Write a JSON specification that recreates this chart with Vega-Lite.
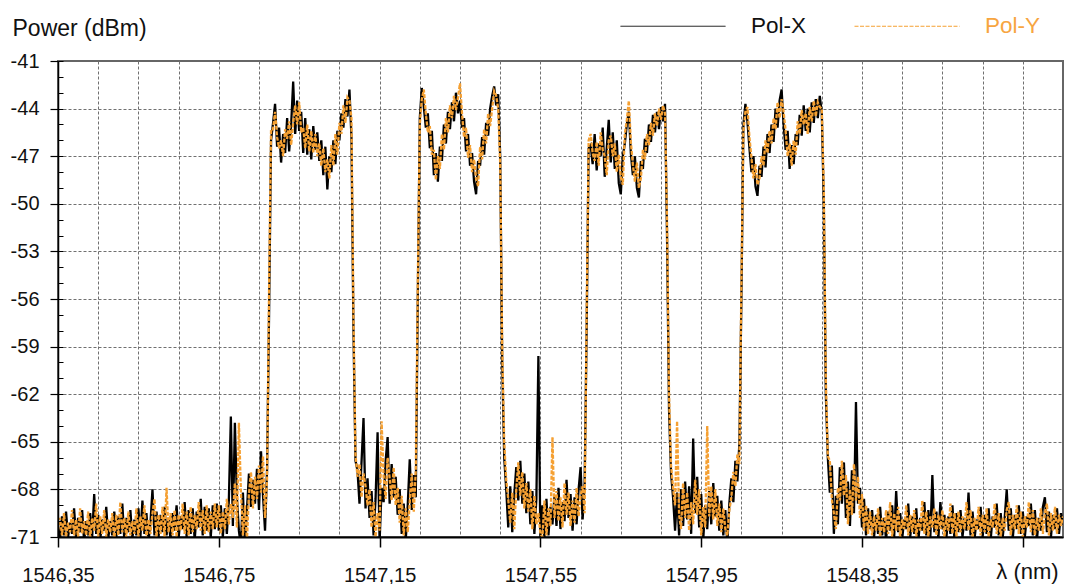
{
"$schema":"https://vega.github.io/schema/vega-lite/v6.json",
"width":1005,"height":476,
"autosize":{"type":"none"},
"padding":{"left":58,"top":61,"right":7,"bottom":47},
"background":"white",
"config":{"view":{"stroke":"#666666","strokeWidth":2},"font":"Liberation Sans"},
"data":{"values":[
{"w":1546.35,"a":-70.3,"b":-70.6},{"w":1546.355,"a":-71.2,"b":-69.8},{"w":1546.36,"a":-69.7,"b":-70.9},{"w":1546.365,"a":-70.9,"b":-69.5},{"w":1546.37,"a":-69.4,"b":-71.0},
{"w":1546.375,"a":-71.0,"b":-70.1},{"w":1546.38,"a":-70.1,"b":-70.7},{"w":1546.385,"a":-70.8,"b":-69.3},{"w":1546.39,"a":-69.2,"b":-70.9},{"w":1546.395,"a":-71.1,"b":-69.9},
{"w":1546.4,"a":-69.8,"b":-71.0},{"w":1546.405,"a":-70.7,"b":-69.2},{"w":1546.41,"a":-69.3,"b":-70.8},{"w":1546.415,"a":-71.3,"b":-70.0},{"w":1546.42,"a":-70.0,"b":-70.9},
{"w":1546.425,"a":-70.9,"b":-69.4},{"w":1546.43,"a":-69.5,"b":-71.1},{"w":1546.435,"a":-71.0,"b":-69.8},{"w":1546.44,"a":-68.3,"b":-70.6},{"w":1546.445,"a":-70.8,"b":-68.9},
{"w":1546.45,"a":-69.6,"b":-71.0},{"w":1546.455,"a":-71.2,"b":-69.7},{"w":1546.46,"a":-69.9,"b":-70.8},{"w":1546.465,"a":-70.6,"b":-69.3},{"w":1546.47,"a":-69.1,"b":-71.0},
{"w":1546.475,"a":-71.1,"b":-69.9},{"w":1546.48,"a":-70.0,"b":-70.7},{"w":1546.485,"a":-70.9,"b":-69.5},{"w":1546.49,"a":-69.4,"b":-71.2},{"w":1546.495,"a":-71.0,"b":-69.6},
{"w":1546.5,"a":-69.7,"b":-70.9},{"w":1546.505,"a":-70.8,"b":-68.8},{"w":1546.51,"a":-68.9,"b":-70.7},{"w":1546.515,"a":-71.2,"b":-69.8},{"w":1546.52,"a":-69.8,"b":-71.0},
{"w":1546.525,"a":-70.7,"b":-69.4},{"w":1546.53,"a":-69.3,"b":-70.9},{"w":1546.535,"a":-71.1,"b":-70.0},{"w":1546.54,"a":-69.9,"b":-70.8},{"w":1546.545,"a":-70.9,"b":-69.2},
{"w":1546.55,"a":-69.2,"b":-71.0},{"w":1546.555,"a":-71.0,"b":-69.7},{"w":1546.56,"a":-68.7,"b":-70.6},{"w":1546.565,"a":-70.8,"b":-69.0},{"w":1546.57,"a":-69.5,"b":-71.1},
{"w":1546.575,"a":-71.3,"b":-69.9},{"w":1546.58,"a":-70.1,"b":-70.8},{"w":1546.585,"a":-68.0,"b":-69.5},{"w":1546.59,"a":-70.9,"b":-68.6},{"w":1546.595,"a":-69.4,"b":-71.0},
{"w":1546.6,"a":-71.0,"b":-69.6},{"w":1546.605,"a":-69.6,"b":-70.8},{"w":1546.61,"a":-70.7,"b":-69.1},{"w":1546.615,"a":-69.1,"b":-71.0},{"w":1546.62,"a":-70.9,"b":-67.9},
{"w":1546.625,"a":-69.8,"b":-70.7},{"w":1546.63,"a":-71.2,"b":-69.5},{"w":1546.635,"a":-69.5,"b":-70.9},{"w":1546.64,"a":-70.6,"b":-69.3},{"w":1546.645,"a":-69.0,"b":-71.0},
{"w":1546.65,"a":-71.1,"b":-69.6},{"w":1546.655,"a":-69.7,"b":-70.6},{"w":1546.66,"a":-70.5,"b":-68.9},{"w":1546.665,"a":-68.8,"b":-70.8},{"w":1546.67,"a":-71.0,"b":-69.4},
{"w":1546.675,"a":-69.3,"b":-70.9},{"w":1546.68,"a":-70.8,"b":-69.1},{"w":1546.685,"a":-69.2,"b":-70.7},{"w":1546.69,"a":-71.2,"b":-69.6},{"w":1546.695,"a":-69.4,"b":-70.5},
{"w":1546.7,"a":-70.4,"b":-68.8},{"w":1546.705,"a":-68.6,"b":-70.6},{"w":1546.71,"a":-70.9,"b":-69.3},{"w":1546.715,"a":-69.1,"b":-70.8},{"w":1546.72,"a":-70.6,"b":-69.0},
{"w":1546.725,"a":-69.2,"b":-70.7},{"w":1546.73,"a":-71.0,"b":-69.4},{"w":1546.735,"a":-69.0,"b":-70.5},{"w":1546.74,"a":-70.5,"b":-68.9},{"w":1546.745,"a":-68.9,"b":-70.4},
{"w":1546.75,"a":-70.6,"b":-69.0},{"w":1546.755,"a":-69.0,"b":-70.8},{"w":1546.76,"a":-71.0,"b":-69.4},{"w":1546.765,"a":-69.2,"b":-70.5},{"w":1546.77,"a":-70.8,"b":-68.6},
{"w":1546.775,"a":-68.7,"b":-70.2},{"w":1546.78,"a":-63.4,"b":-68.9},{"w":1546.785,"a":-70.3,"b":-69.8},{"w":1546.79,"a":-63.8,"b":-67.6},{"w":1546.795,"a":-68.5,"b":-70.4},
{"w":1546.8,"a":-70.6,"b":-63.8},{"w":1546.805,"a":-71.6,"b":-68.1},{"w":1546.81,"a":-68.2,"b":-70.9},{"w":1546.815,"a":-71.5,"b":-69.0},{"w":1546.82,"a":-69.3,"b":-71.2},
{"w":1546.825,"a":-67.0,"b":-68.3},{"w":1546.83,"a":-69.1,"b":-66.9},{"w":1546.835,"a":-67.4,"b":-69.2},{"w":1546.84,"a":-68.9,"b":-67.2},{"w":1546.845,"a":-66.7,"b":-68.6},
{"w":1546.85,"a":-69.3,"b":-66.5},{"w":1546.855,"a":-65.6,"b":-68.2},{"w":1546.86,"a":-68.4,"b":-65.9},{"w":1546.865,"a":-70.6,"b":-69.8},{"w":1546.87,"a":-66.8,"b":-67.4},
{"w":1546.875,"a":-57.0,"b":-55.5},{"w":1546.88,"a":-46.0,"b":-45.3},{"w":1546.885,"a":-44.9,"b":-45.3},{"w":1546.89,"a":-43.7,"b":-44.2},{"w":1546.895,"a":-46.4,"b":-45.8},
{"w":1546.9,"a":-45.2,"b":-46.5},{"w":1546.905,"a":-47.4,"b":-46.0},{"w":1546.91,"a":-45.6,"b":-47.0},{"w":1546.915,"a":-46.8,"b":-45.3},{"w":1546.92,"a":-44.6,"b":-45.9},
{"w":1546.925,"a":-46.7,"b":-44.8},{"w":1546.93,"a":-45.0,"b":-46.3},{"w":1546.935,"a":-42.3,"b":-44.9},{"w":1546.94,"a":-45.6,"b":-43.8},{"w":1546.945,"a":-43.5,"b":-45.0},
{"w":1546.95,"a":-45.4,"b":-43.6},{"w":1546.955,"a":-44.2,"b":-45.5},{"w":1546.96,"a":-46.8,"b":-45.2},{"w":1546.965,"a":-44.6,"b":-46.5},{"w":1546.97,"a":-46.9,"b":-45.0},
{"w":1546.975,"a":-45.3,"b":-46.7},{"w":1546.98,"a":-47.2,"b":-45.4},{"w":1546.985,"a":-45.1,"b":-46.8},{"w":1546.99,"a":-46.6,"b":-45.6},{"w":1546.995,"a":-45.5,"b":-47.0},
{"w":1547.0,"a":-47.3,"b":-46.2},{"w":1547.005,"a":-46.0,"b":-47.6},{"w":1547.01,"a":-48.2,"b":-46.5},{"w":1547.015,"a":-46.4,"b":-48.0},{"w":1547.02,"a":-49.1,"b":-47.2},
{"w":1547.025,"a":-47.0,"b":-48.4},{"w":1547.03,"a":-48.0,"b":-46.3},{"w":1547.035,"a":-46.0,"b":-47.6},{"w":1547.04,"a":-47.5,"b":-45.6},{"w":1547.045,"a":-45.4,"b":-46.9},
{"w":1547.05,"a":-46.0,"b":-44.9},{"w":1547.055,"a":-44.3,"b":-45.6},{"w":1547.06,"a":-45.2,"b":-43.8},{"w":1547.065,"a":-43.4,"b":-44.9},{"w":1547.07,"a":-44.5,"b":-43.3},
{"w":1547.075,"a":-42.8,"b":-43.5},{"w":1547.08,"a":-45.8,"b":-44.6},{"w":1547.085,"a":-58.0,"b":-57.0},{"w":1547.09,"a":-66.2,"b":-65.8},{"w":1547.095,"a":-66.8,"b":-67.2},
{"w":1547.1,"a":-68.9,"b":-66.4},{"w":1547.105,"a":-66.3,"b":-68.5},{"w":1547.11,"a":-63.5,"b":-67.0},{"w":1547.115,"a":-69.2,"b":-67.8},{"w":1547.12,"a":-67.3,"b":-69.0},
{"w":1547.125,"a":-69.8,"b":-68.0},{"w":1547.13,"a":-68.1,"b":-70.4},{"w":1547.135,"a":-70.9,"b":-68.8},{"w":1547.14,"a":-68.6,"b":-71.0},{"w":1547.145,"a":-64.4,"b":-69.5},
{"w":1547.15,"a":-71.3,"b":-70.6},{"w":1547.155,"a":-67.9,"b":-63.7},{"w":1547.16,"a":-68.8,"b":-67.2},{"w":1547.165,"a":-66.2,"b":-68.6},{"w":1547.17,"a":-64.7,"b":-66.0},
{"w":1547.175,"a":-68.9,"b":-67.3},{"w":1547.18,"a":-66.4,"b":-68.7},{"w":1547.185,"a":-68.5,"b":-66.6},{"w":1547.19,"a":-67.2,"b":-69.0},{"w":1547.195,"a":-69.6,"b":-67.9},
{"w":1547.2,"a":-68.0,"b":-70.1},{"w":1547.205,"a":-70.8,"b":-68.4},{"w":1547.21,"a":-68.9,"b":-70.9},{"w":1547.215,"a":-71.2,"b":-69.2},{"w":1547.22,"a":-69.0,"b":-70.7},
{"w":1547.225,"a":-66.1,"b":-68.8},{"w":1547.23,"a":-69.3,"b":-67.0},{"w":1547.235,"a":-67.1,"b":-69.4},{"w":1547.24,"a":-68.5,"b":-66.8},{"w":1547.245,"a":-56.0,"b":-55.0},
{"w":1547.25,"a":-44.6,"b":-45.0},{"w":1547.255,"a":-42.7,"b":-43.4},{"w":1547.26,"a":-43.9,"b":-42.8},{"w":1547.265,"a":-45.2,"b":-44.3},{"w":1547.27,"a":-44.3,"b":-45.5},
{"w":1547.275,"a":-46.5,"b":-45.1},{"w":1547.28,"a":-45.4,"b":-46.9},{"w":1547.285,"a":-48.2,"b":-46.6},{"w":1547.29,"a":-46.8,"b":-48.5},{"w":1547.295,"a":-48.6,"b":-47.0},
{"w":1547.3,"a":-46.4,"b":-47.8},{"w":1547.305,"a":-47.3,"b":-45.6},{"w":1547.31,"a":-45.0,"b":-46.6},{"w":1547.315,"a":-46.2,"b":-44.6},{"w":1547.32,"a":-44.2,"b":-45.5},
{"w":1547.325,"a":-45.3,"b":-43.8},{"w":1547.33,"a":-43.6,"b":-44.6},{"w":1547.335,"a":-44.8,"b":-43.2},{"w":1547.34,"a":-43.0,"b":-44.1},{"w":1547.345,"a":-44.3,"b":-43.3},
{"w":1547.35,"a":-43.5,"b":-42.4},{"w":1547.355,"a":-45.2,"b":-44.3},{"w":1547.36,"a":-44.6,"b":-45.8},{"w":1547.365,"a":-46.7,"b":-45.2},{"w":1547.37,"a":-45.6,"b":-47.1},
{"w":1547.375,"a":-47.6,"b":-46.3},{"w":1547.38,"a":-46.8,"b":-48.0},{"w":1547.385,"a":-48.6,"b":-47.2},{"w":1547.39,"a":-49.4,"b":-48.4},{"w":1547.395,"a":-47.3,"b":-48.9},
{"w":1547.4,"a":-47.6,"b":-46.4},{"w":1547.405,"a":-45.8,"b":-47.2},{"w":1547.41,"a":-46.9,"b":-45.3},{"w":1547.415,"a":-44.9,"b":-46.2},{"w":1547.42,"a":-45.7,"b":-44.3},
{"w":1547.425,"a":-44.0,"b":-45.1},{"w":1547.43,"a":-43.2,"b":-44.0},{"w":1547.435,"a":-42.6,"b":-42.9},{"w":1547.44,"a":-43.8,"b":-43.2},{"w":1547.445,"a":-43.1,"b":-44.0},
{"w":1547.45,"a":-47.0,"b":-47.5},{"w":1547.455,"a":-60.0,"b":-59.0},{"w":1547.46,"a":-66.0,"b":-65.0},{"w":1547.465,"a":-68.0,"b":-67.4},{"w":1547.47,"a":-70.4,"b":-68.6},
{"w":1547.475,"a":-67.8,"b":-70.1},{"w":1547.48,"a":-70.7,"b":-68.2},{"w":1547.485,"a":-68.3,"b":-70.5},{"w":1547.49,"a":-66.6,"b":-68.0},{"w":1547.495,"a":-68.7,"b":-66.3},
{"w":1547.5,"a":-66.2,"b":-68.4},{"w":1547.505,"a":-68.9,"b":-66.9},{"w":1547.51,"a":-67.0,"b":-69.2},{"w":1547.515,"a":-69.5,"b":-67.6},{"w":1547.52,"a":-67.5,"b":-69.4},
{"w":1547.525,"a":-70.2,"b":-68.0},{"w":1547.53,"a":-68.1,"b":-70.5},{"w":1547.535,"a":-70.8,"b":-68.4},{"w":1547.54,"a":-68.6,"b":-70.2},{"w":1547.545,"a":-59.6,"b":-69.5},
{"w":1547.55,"a":-71.3,"b":-70.8},{"w":1547.555,"a":-69.0,"b":-71.0},{"w":1547.56,"a":-71.1,"b":-68.7},{"w":1547.565,"a":-68.6,"b":-70.9},{"w":1547.57,"a":-70.9,"b":-69.2},
{"w":1547.575,"a":-69.1,"b":-70.3},{"w":1547.58,"a":-70.2,"b":-64.7},{"w":1547.585,"a":-68.4,"b":-69.8},{"w":1547.59,"a":-70.3,"b":-68.1},{"w":1547.595,"a":-67.9,"b":-70.0},
{"w":1547.6,"a":-70.5,"b":-68.5},{"w":1547.605,"a":-68.8,"b":-70.4},{"w":1547.61,"a":-70.0,"b":-67.6},{"w":1547.615,"a":-67.4,"b":-69.6},{"w":1547.62,"a":-69.8,"b":-68.2},
{"w":1547.625,"a":-68.3,"b":-70.3},{"w":1547.63,"a":-70.6,"b":-68.7},{"w":1547.635,"a":-68.5,"b":-70.1},{"w":1547.64,"a":-70.2,"b":-67.9},{"w":1547.645,"a":-68.0,"b":-69.7},
{"w":1547.65,"a":-66.6,"b":-68.4},{"w":1547.655,"a":-69.9,"b":-67.8},{"w":1547.66,"a":-67.7,"b":-69.5},{"w":1547.665,"a":-58.0,"b":-57.0},{"w":1547.67,"a":-46.5,"b":-46.0},
{"w":1547.675,"a":-46.3,"b":-45.6},{"w":1547.68,"a":-47.5,"b":-46.8},{"w":1547.685,"a":-45.6,"b":-47.3},{"w":1547.69,"a":-47.9,"b":-46.1},{"w":1547.695,"a":-46.2,"b":-47.6},
{"w":1547.7,"a":-47.0,"b":-45.5},{"w":1547.705,"a":-45.2,"b":-46.6},{"w":1547.71,"a":-48.3,"b":-47.0},{"w":1547.715,"a":-46.5,"b":-48.2},{"w":1547.72,"a":-44.7,"b":-46.0},
{"w":1547.725,"a":-47.4,"b":-45.7},{"w":1547.73,"a":-45.5,"b":-47.0},{"w":1547.735,"a":-47.8,"b":-46.2},{"w":1547.74,"a":-46.0,"b":-48.0},{"w":1547.745,"a":-48.7,"b":-46.9},
{"w":1547.75,"a":-49.4,"b":-48.3},{"w":1547.755,"a":-47.0,"b":-48.8},{"w":1547.76,"a":-46.2,"b":-45.6},{"w":1547.765,"a":-45.0,"b":-44.7},{"w":1547.77,"a":-44.2,"b":-43.5},
{"w":1547.775,"a":-46.8,"b":-46.1},{"w":1547.78,"a":-48.2,"b":-47.5},{"w":1547.785,"a":-47.0,"b":-48.6},{"w":1547.79,"a":-49.0,"b":-47.4},{"w":1547.795,"a":-49.6,"b":-49.0},
{"w":1547.8,"a":-47.3,"b":-48.4},{"w":1547.805,"a":-47.8,"b":-46.6},{"w":1547.81,"a":-45.9,"b":-47.2},{"w":1547.815,"a":-46.8,"b":-45.6},{"w":1547.82,"a":-45.0,"b":-46.3},
{"w":1547.825,"a":-46.1,"b":-44.9},{"w":1547.83,"a":-44.4,"b":-45.7},{"w":1547.835,"a":-45.5,"b":-44.3},{"w":1547.84,"a":-44.2,"b":-45.1},{"w":1547.845,"a":-45.3,"b":-44.0},
{"w":1547.85,"a":-43.9,"b":-44.7},{"w":1547.855,"a":-44.8,"b":-43.8},{"w":1547.86,"a":-43.7,"b":-44.3},{"w":1547.865,"a":-52.0,"b":-51.0},{"w":1547.87,"a":-63.0,"b":-62.0},
{"w":1547.875,"a":-67.0,"b":-66.5},{"w":1547.88,"a":-68.5,"b":-67.9},{"w":1547.885,"a":-70.6,"b":-69.0},{"w":1547.89,"a":-68.2,"b":-63.7},{"w":1547.895,"a":-70.9,"b":-69.6},
{"w":1547.9,"a":-68.0,"b":-70.5},{"w":1547.905,"a":-70.3,"b":-67.6},{"w":1547.91,"a":-67.5,"b":-69.8},{"w":1547.915,"a":-69.9,"b":-68.2},{"w":1547.92,"a":-67.8,"b":-70.6},
{"w":1547.925,"a":-70.8,"b":-68.8},{"w":1547.93,"a":-64.8,"b":-70.2},{"w":1547.935,"a":-69.5,"b":-67.4},{"w":1547.94,"a":-67.2,"b":-69.6},{"w":1547.945,"a":-70.4,"b":-68.0},
{"w":1547.95,"a":-68.3,"b":-70.9},{"w":1547.955,"a":-71.2,"b":-69.1},{"w":1547.96,"a":-69.0,"b":-70.4},{"w":1547.965,"a":-70.5,"b":-64.0},{"w":1547.97,"a":-68.1,"b":-69.7},
{"w":1547.975,"a":-70.2,"b":-67.8},{"w":1547.98,"a":-67.6,"b":-69.9},{"w":1547.985,"a":-69.7,"b":-68.0},{"w":1547.99,"a":-68.4,"b":-70.3},{"w":1547.995,"a":-70.6,"b":-68.9},
{"w":1548.0,"a":-68.7,"b":-70.7},{"w":1548.005,"a":-70.9,"b":-69.2},{"w":1548.01,"a":-69.3,"b":-70.5},{"w":1548.015,"a":-71.4,"b":-70.9},{"w":1548.02,"a":-68.9,"b":-69.3},
{"w":1548.025,"a":-67.3,"b":-68.5},{"w":1548.03,"a":-68.8,"b":-66.9},{"w":1548.035,"a":-66.2,"b":-67.8},{"w":1548.04,"a":-67.5,"b":-65.8},{"w":1548.045,"a":-65.1,"b":-66.4},
{"w":1548.05,"a":-56.0,"b":-55.0},{"w":1548.055,"a":-45.0,"b":-45.4},{"w":1548.06,"a":-43.7,"b":-44.2},{"w":1548.065,"a":-44.8,"b":-43.9},{"w":1548.07,"a":-46.5,"b":-45.8},
{"w":1548.075,"a":-48.0,"b":-47.1},{"w":1548.08,"a":-47.0,"b":-48.4},{"w":1548.085,"a":-48.9,"b":-47.5},{"w":1548.09,"a":-49.5,"b":-48.8},{"w":1548.095,"a":-47.6,"b":-48.4},
{"w":1548.1,"a":-48.3,"b":-47.0},{"w":1548.105,"a":-46.4,"b":-47.6},{"w":1548.11,"a":-47.7,"b":-46.0},{"w":1548.115,"a":-45.6,"b":-46.8},{"w":1548.12,"a":-46.8,"b":-45.4},
{"w":1548.125,"a":-45.0,"b":-46.2},{"w":1548.13,"a":-46.1,"b":-44.6},{"w":1548.135,"a":-44.0,"b":-45.3},{"w":1548.14,"a":-45.2,"b":-43.6},{"w":1548.145,"a":-43.5,"b":-44.6},
{"w":1548.15,"a":-42.8,"b":-43.4},{"w":1548.155,"a":-45.0,"b":-44.2},{"w":1548.16,"a":-46.6,"b":-45.4},{"w":1548.165,"a":-45.4,"b":-47.0},{"w":1548.17,"a":-47.8,"b":-46.2},
{"w":1548.175,"a":-46.3,"b":-47.6},{"w":1548.18,"a":-47.5,"b":-46.0},{"w":1548.185,"a":-45.6,"b":-46.9},{"w":1548.19,"a":-46.3,"b":-44.8},{"w":1548.195,"a":-44.4,"b":-45.6},
{"w":1548.2,"a":-45.7,"b":-44.1},{"w":1548.205,"a":-43.8,"b":-45.0},{"w":1548.21,"a":-45.4,"b":-44.3},{"w":1548.215,"a":-44.0,"b":-45.6},{"w":1548.22,"a":-45.5,"b":-43.9},
{"w":1548.225,"a":-43.6,"b":-44.8},{"w":1548.23,"a":-44.9,"b":-43.5},{"w":1548.235,"a":-43.4,"b":-44.5},{"w":1548.24,"a":-44.6,"b":-43.6},{"w":1548.245,"a":-43.2,"b":-43.9},
{"w":1548.25,"a":-44.3,"b":-44.0},{"w":1548.255,"a":-50.0,"b":-49.0},{"w":1548.26,"a":-62.0,"b":-61.0},{"w":1548.265,"a":-66.0,"b":-65.9},{"w":1548.27,"a":-68.2,"b":-66.2},
{"w":1548.275,"a":-66.5,"b":-68.6},{"w":1548.28,"a":-70.8,"b":-69.5},{"w":1548.285,"a":-68.4,"b":-70.5},{"w":1548.29,"a":-70.2,"b":-67.9},{"w":1548.295,"a":-66.6,"b":-68.7},
{"w":1548.3,"a":-68.9,"b":-66.2},{"w":1548.305,"a":-66.3,"b":-68.4},{"w":1548.31,"a":-69.8,"b":-67.1},{"w":1548.315,"a":-67.5,"b":-70.2},{"w":1548.32,"a":-70.3,"b":-68.0},
{"w":1548.325,"a":-66.8,"b":-69.6},{"w":1548.33,"a":-69.5,"b":-66.4},{"w":1548.335,"a":-62.5,"b":-68.7},{"w":1548.34,"a":-68.9,"b":-67.2},{"w":1548.345,"a":-67.9,"b":-69.8},
{"w":1548.35,"a":-70.4,"b":-68.3},{"w":1548.355,"a":-68.6,"b":-70.6},{"w":1548.36,"a":-70.9,"b":-69.0},{"w":1548.365,"a":-69.2,"b":-70.8},{"w":1548.37,"a":-70.5,"b":-69.4},
{"w":1548.375,"a":-69.3,"b":-70.9},{"w":1548.38,"a":-71.0,"b":-69.7},{"w":1548.385,"a":-69.6,"b":-70.6},{"w":1548.39,"a":-70.8,"b":-69.2},{"w":1548.395,"a":-69.1,"b":-71.0},
{"w":1548.4,"a":-70.9,"b":-69.8},{"w":1548.405,"a":-69.8,"b":-70.7},{"w":1548.41,"a":-71.2,"b":-69.3},{"w":1548.415,"a":-69.4,"b":-70.8},{"w":1548.42,"a":-70.6,"b":-68.8},
{"w":1548.425,"a":-69.0,"b":-71.0},{"w":1548.43,"a":-71.0,"b":-69.5},{"w":1548.435,"a":-68.1,"b":-70.6},{"w":1548.44,"a":-70.7,"b":-69.1},{"w":1548.445,"a":-69.5,"b":-71.1},
{"w":1548.45,"a":-71.1,"b":-69.9},{"w":1548.455,"a":-69.9,"b":-70.5},{"w":1548.46,"a":-70.5,"b":-69.0},{"w":1548.465,"a":-68.9,"b":-70.9},{"w":1548.47,"a":-71.0,"b":-69.6},
{"w":1548.475,"a":-69.7,"b":-70.7},{"w":1548.48,"a":-70.8,"b":-69.3},{"w":1548.485,"a":-69.2,"b":-71.0},{"w":1548.49,"a":-71.3,"b":-69.9},{"w":1548.495,"a":-69.8,"b":-70.6},
{"w":1548.5,"a":-70.6,"b":-68.7},{"w":1548.505,"a":-68.8,"b":-70.8},{"w":1548.51,"a":-70.9,"b":-69.4},{"w":1548.515,"a":-69.3,"b":-71.0},{"w":1548.52,"a":-71.0,"b":-69.7},
{"w":1548.525,"a":-67.1,"b":-70.4},{"w":1548.53,"a":-70.7,"b":-69.2},{"w":1548.535,"a":-69.4,"b":-70.9},{"w":1548.54,"a":-71.1,"b":-69.6},{"w":1548.545,"a":-68.8,"b":-70.5},
{"w":1548.55,"a":-70.5,"b":-69.3},{"w":1548.555,"a":-69.6,"b":-71.0},{"w":1548.56,"a":-71.0,"b":-69.8},{"w":1548.565,"a":-69.7,"b":-70.6},{"w":1548.57,"a":-70.8,"b":-68.9},
{"w":1548.575,"a":-69.0,"b":-70.8},{"w":1548.58,"a":-71.2,"b":-69.5},{"w":1548.585,"a":-69.5,"b":-71.0},{"w":1548.59,"a":-70.7,"b":-69.4},{"w":1548.595,"a":-69.3,"b":-70.7},
{"w":1548.6,"a":-71.0,"b":-69.7},{"w":1548.605,"a":-69.8,"b":-70.5},{"w":1548.61,"a":-70.6,"b":-68.8},{"w":1548.615,"a":-68.2,"b":-70.6},{"w":1548.62,"a":-70.9,"b":-69.3},
{"w":1548.625,"a":-69.4,"b":-71.1},{"w":1548.63,"a":-71.1,"b":-69.8},{"w":1548.635,"a":-69.9,"b":-70.6},{"w":1548.64,"a":-70.5,"b":-69.1},{"w":1548.645,"a":-69.1,"b":-70.9},
{"w":1548.65,"a":-71.0,"b":-69.6},{"w":1548.655,"a":-69.6,"b":-70.7},{"w":1548.66,"a":-70.8,"b":-69.2},{"w":1548.665,"a":-69.2,"b":-71.0},{"w":1548.67,"a":-71.2,"b":-69.9},
{"w":1548.675,"a":-69.7,"b":-70.4},{"w":1548.68,"a":-70.4,"b":-68.9},{"w":1548.685,"a":-68.9,"b":-70.8},{"w":1548.69,"a":-70.9,"b":-69.5},{"w":1548.695,"a":-69.5,"b":-71.0},
{"w":1548.7,"a":-71.0,"b":-69.8},{"w":1548.705,"a":-69.8,"b":-70.6},{"w":1548.71,"a":-68.0,"b":-69.3},{"w":1548.715,"a":-70.6,"b":-68.8},{"w":1548.72,"a":-69.2,"b":-70.9},
{"w":1548.725,"a":-71.1,"b":-69.6},{"w":1548.73,"a":-69.6,"b":-70.5},{"w":1548.735,"a":-70.5,"b":-69.0},{"w":1548.74,"a":-69.0,"b":-70.8},{"w":1548.745,"a":-70.8,"b":-69.4},
{"w":1548.75,"a":-69.4,"b":-71.0},{"w":1548.755,"a":-71.0,"b":-69.7},{"w":1548.76,"a":-69.7,"b":-70.4},{"w":1548.765,"a":-70.3,"b":-68.8},{"w":1548.77,"a":-68.9,"b":-70.7},
{"w":1548.775,"a":-70.9,"b":-69.3},{"w":1548.78,"a":-69.3,"b":-70.9},{"w":1548.785,"a":-71.2,"b":-69.8},{"w":1548.79,"a":-69.8,"b":-70.6},{"w":1548.795,"a":-70.6,"b":-69.2},
{"w":1548.8,"a":-69.1,"b":-70.8},{"w":1548.805,"a":-68.5,"b":-69.5},{"w":1548.81,"a":-70.7,"b":-68.9},{"w":1548.815,"a":-69.4,"b":-70.9},{"w":1548.82,"a":-71.0,"b":-69.5},
{"w":1548.825,"a":-69.6,"b":-70.6},{"w":1548.83,"a":-70.5,"b":-69.1},{"w":1548.835,"a":-69.2,"b":-70.8},{"w":1548.84,"a":-70.8,"b":-69.6},{"w":1548.845,"a":-69.5,"b":-70.3},
{"w":1548.85,"a":-70.2,"b":-69.7}
]},
"transform":[{"fold":["a","b"],"as":["s","p"]}],
"resolve":{"axis":{"x":"independent","y":"independent"}},
"layer":[
{"mark":{"type":"line","strokeWidth":2.3,"clip":true},
 "encoding":{
  "x":{"field":"w","type":"quantitative","scale":{"domain":[1546.35,1548.85],"nice":false,"zero":false},
   "axis":{"orient":"bottom","values":[1546.45,1546.55,1546.65,1546.75,1546.85,1546.95,1547.05,1547.15,1547.25,1547.35,1547.45,1547.55,1547.65,1547.75,1547.85,1547.95,1548.05,1548.15,1548.25,1548.35,1548.45,1548.55,1548.65,1548.75],
    "grid":true,"gridColor":"#707070","gridDash":[3,2],"gridWidth":1,"labels":false,"ticks":false,"domain":false,"title":null,"zindex":0}},
  "y":{"field":"p","type":"quantitative","scale":{"domain":[-71,-41],"nice":false,"zero":false},
   "axis":{"orient":"left","values":[-68,-65,-62,-59,-56,-53,-50,-47,-44],
    "grid":true,"gridColor":"#707070","gridDash":[3,2],"gridWidth":1,"labels":false,"ticks":false,"domain":false,"title":null,"zindex":0}},
  "color":{"field":"s","type":"nominal","scale":{"domain":["a","b"],"range":["#000000","#f5a032"]},
   "legend":{"title":null,"orient":"none","legendX":562,"legendY":-88,"direction":"horizontal","columns":2,"columnPadding":45,"padding":0,"symbolType":"stroke","symbolSize":11025,"symbolStrokeWidth":1,"labelOffset":25,"labelFont":"Liberation Sans","labelFontSize":22.5,"labelExpr":"datum.label == 'a' ? 'Pol-X' : 'Pol-Y'","encode":{"labels":{"update":{"fill":{"signal":"datum.value == 'b' ? '#f7a540' : '#111111'"}}}}}},
  "strokeDash":{"field":"s","type":"nominal","scale":{"domain":["a","b"],"range":[[1,0],[4,1.5]]},
   "legend":{"title":null,"orient":"none","legendX":562,"legendY":-88,"direction":"horizontal","columns":2,"columnPadding":45,"padding":0,"symbolType":"stroke","symbolSize":11025,"symbolStrokeWidth":1,"labelOffset":25,"labelFont":"Liberation Sans","labelFontSize":22.5,"labelExpr":"datum.label == 'a' ? 'Pol-X' : 'Pol-Y'","encode":{"labels":{"update":{"fill":{"signal":"datum.value == 'b' ? '#f7a540' : '#111111'"}}}}}}
 }},
{"mark":{"type":"point","opacity":0},
 "encoding":{
  "x":{"field":"w","type":"quantitative",
   "axis":{"orient":"bottom","values":[1546.35,1546.75,1547.15,1547.55,1547.95,1548.35,1548.75],"grid":false,"domain":true,"domainColor":"#000000","domainWidth":2,"ticks":true,"tickColor":"#000000","tickSize":10,"tickWidth":1.5,
    "labelExpr":"datum.value > 1548.7 ? '' : replace(format(datum.value, '.2f'), '.', ',')","labelFont":"Liberation Sans","labelFontSize":20,"labelColor":"#111111","labelPadding":18,"labelFlush":false,"labelOverlap":false,
    "title":"λ  (nm)","titleFont":"Liberation Sans","titleFontSize":22,"titleFontWeight":"normal","titleColor":"#111111","titleX":969,"titleY":41,"titleAlign":"center","titleBaseline":"alphabetic","titleAnchor":null,"zindex":1}},
  "y":{"field":"p","type":"quantitative",
   "axis":{"orient":"left","values":[-71,-68,-65,-62,-59,-56,-53,-50,-47,-44,-41],"grid":false,"domain":true,"domainColor":"#000000","domainWidth":1.5,"ticks":true,"tickColor":"#000000","tickSize":8,"tickWidth":1.2,
    "labelExpr":"'-' + abs(datum.value)","labelFont":"Liberation Sans","labelFontSize":20,"labelColor":"#111111","labelPadding":11,"labelFlush":false,"labelOverlap":false,
    "title":"Power (dBm)","titleFont":"Liberation Sans","titleFontSize":23,"titleFontWeight":"normal","titleColor":"#111111","titleAngle":0,"titleX":-46,"titleY":-26,"titleAlign":"left","titleBaseline":"alphabetic","titleAnchor":null,"zindex":1}}
 }},
{"mark":{"type":"point","opacity":0},
 "encoding":{
  "x":{"field":"w","type":"quantitative","axis":null},
  "y":{"field":"p","type":"quantitative",
   "axis":{"orient":"left","values":[-71,-70,-69,-68,-67,-66,-65,-64,-63,-62,-61,-60,-59,-58,-57,-56,-55,-54,-53,-52,-51,-50,-49,-48,-47,-46,-45,-44,-43,-42,-41],"grid":false,"domain":false,"labels":false,"ticks":true,"tickColor":"#000000","tickSize":-5,"tickWidth":1,"title":null,"zindex":1}}
 }}
]
}
